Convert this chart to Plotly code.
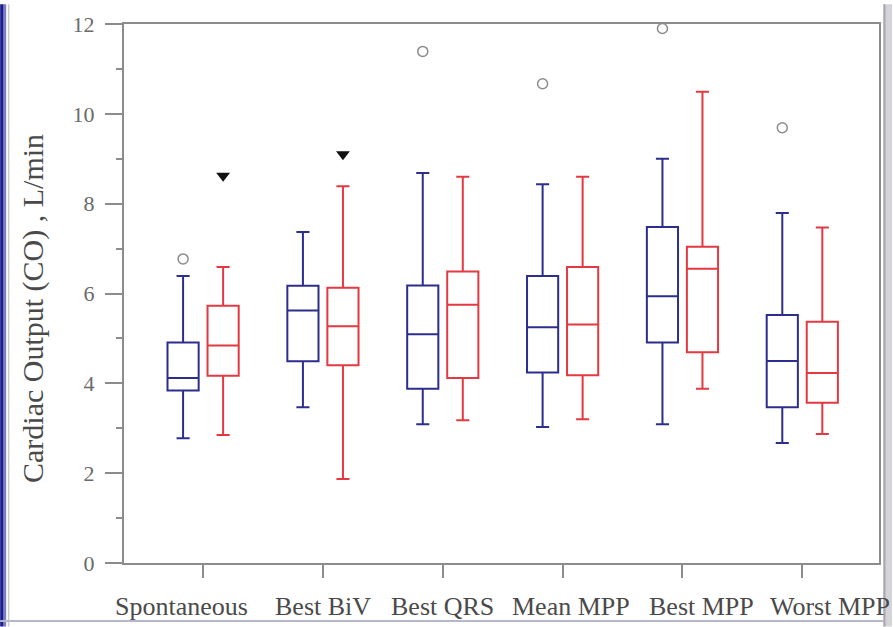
import plotly.graph_objects as go

# Pacing modes (x categories)
modes = ["Spontaneous", "Best BiV", "Best QRS", "Mean MPP", "Best MPP", "Worst MPP"]

# Cardiac output box statistics (L/min) – first group (blue)
blue_low = [2.78, 3.47, 3.09, 3.03, 3.09, 2.67]
blue_q1 = [3.84, 4.49, 3.88, 4.24, 4.91, 3.47]
blue_med = [4.12, 5.62, 5.09, 5.25, 5.94, 4.50]
blue_q3 = [4.91, 6.17, 6.18, 6.39, 7.48, 5.52]
blue_high = [6.39, 7.37, 8.68, 8.43, 9.00, 7.79]

# Cardiac output box statistics (L/min) – second group (red)
red_low = [2.85, 1.87, 3.18, 3.20, 3.88, 2.87]
red_q1 = [4.17, 4.40, 4.12, 4.18, 4.69, 3.57]
red_med = [4.84, 5.27, 5.75, 5.31, 6.55, 4.23]
red_q3 = [5.73, 6.13, 6.49, 6.59, 7.04, 5.37]
red_high = [6.59, 8.39, 8.60, 8.60, 10.49, 7.47]

# Outliers of the blue group (mode index, value)
outlier_mode = [0, 2, 3, 4, 5]
outlier_val = [6.77, 11.39, 10.67, 11.90, 9.69]

# Significance markers above the red group
sig_mode = [0, 1]
sig_val = [8.62, 9.10]

BLUE = "#2c2e8e"
RED = "#e23a40"
GRAY = "#8c8c8c"
FONT = "Liberation Serif"
OFF = 0.167          # half spacing between paired boxes (x units)
BOXW = 0.26          # box width (x units)

W, H = 893, 627
L, R, T, B = 124, 13, 20, 64
PW, PH = W - L - R, H - T - B


def px_x(p):
    return (p - L) / PW


def px_y(p):
    return (H - B - p) / PH


fig = go.Figure()

idx = list(range(len(modes)))

fig.add_trace(go.Box(
    x=[i - OFF for i in idx], q1=blue_q1, median=blue_med, q3=blue_q3,
    lowerfence=blue_low, upperfence=blue_high,
    width=BOXW, whiskerwidth=0.42, boxpoints=False,
    line=dict(color=BLUE, width=2), fillcolor="rgba(255,255,255,0)",
    showlegend=False, hoverinfo="skip",
))
fig.add_trace(go.Box(
    x=[i + OFF for i in idx], q1=red_q1, median=red_med, q3=red_q3,
    lowerfence=red_low, upperfence=red_high,
    width=BOXW, whiskerwidth=0.42, boxpoints=False,
    line=dict(color=RED, width=2), fillcolor="rgba(255,255,255,0)",
    showlegend=False, hoverinfo="skip",
))

fig.add_trace(go.Scatter(
    x=[m - OFF for m in outlier_mode], y=outlier_val, mode="markers",
    marker=dict(symbol="circle-open", size=10, color=GRAY, line=dict(width=1.5)),
    showlegend=False, hoverinfo="skip",
))
fig.add_trace(go.Scatter(
    x=[m + OFF for m in sig_mode], y=sig_val, mode="markers",
    marker=dict(symbol="triangle-down", size=12, color="#111111"),
    showlegend=False, hoverinfo="skip",
))

# Category labels under the ticks
label_x = [-0.18, 1.0, 2.0, 3.07, 4.16, 5.23]
for lx, name in zip(label_x, modes):
    fig.add_annotation(
        x=lx, xref="x", y=px_y(607), yref="paper", text=name,
        showarrow=False, xanchor="center", yanchor="middle",
        font=dict(family=FONT, size=26, color="#4a4a4a"),
    )

# Y-axis title
fig.add_annotation(
    x=px_x(33), xref="paper", y=px_y(307), yref="paper",
    text="Cardiac Output (CO) , L/min", textangle=-90, showarrow=False,
    xanchor="center", yanchor="middle",
    font=dict(family=FONT, size=30, color="#4a4a4a"),
)

# Window frame edges
shapes = [
    dict(type="rect", xref="paper", yref="paper", x0=px_x(0), x1=px_x(3.5),
         y0=px_y(H), y1=px_y(0), fillcolor="#1c1c8c", line=dict(width=0), layer="above"),
    dict(type="rect", xref="paper", yref="paper", x0=px_x(3.5), x1=px_x(6),
         y0=px_y(H), y1=px_y(0), fillcolor="#7a7fc8", line=dict(width=0), layer="above"),
    dict(type="line", xref="paper", yref="paper", x0=px_x(8.5), x1=px_x(8.5),
         y0=px_y(H), y1=px_y(0), line=dict(color="#c8c8d0", width=1.5)),
    dict(type="line", xref="paper", yref="paper", x0=px_x(0), x1=px_x(W),
         y0=px_y(621.5), y1=px_y(621.5), line=dict(color="#b4b8c8", width=2)),
    dict(type="rect", xref="paper", yref="paper", x0=px_x(884), x1=px_x(W),
         y0=px_y(H), y1=px_y(0), fillcolor="#d4d4d8", line=dict(width=0)),
    dict(type="line", xref="paper", yref="paper", x0=px_x(885.5), x1=px_x(885.5),
         y0=px_y(H), y1=px_y(0), line=dict(color="#a8a8b0", width=2)),
]

fig.update_layout(
    width=W, height=H,
    margin=dict(l=L, r=R, t=T, b=B, pad=0),
    paper_bgcolor="white", plot_bgcolor="white",
    shapes=shapes,
    xaxis=dict(
        range=[-0.66, 5.64], tickvals=idx, showticklabels=False,
        ticks="outside", ticklen=13, tickcolor=GRAY, tickwidth=1.5,
        showline=True, linecolor=GRAY, linewidth=2, mirror=True,
        showgrid=False, zeroline=False,
    ),
    yaxis=dict(
        range=[0, 12], tickvals=[0, 2, 4, 6, 8, 10, 12],
        ticks="outside", ticklen=17, tickcolor=GRAY, tickwidth=1.5,
        ticklabelstandoff=6,
        minor=dict(tickvals=[1, 3, 5, 7, 9, 11], ticks="outside", ticklen=6,
                   tickcolor=GRAY, tickwidth=1.5),
        showline=True, linecolor=GRAY, linewidth=2, mirror=True,
        showgrid=False, zeroline=False,
        tickfont=dict(family=FONT, size=22, color="#6a6a6a"),
    ),
)

fig.write_html("out.html")
